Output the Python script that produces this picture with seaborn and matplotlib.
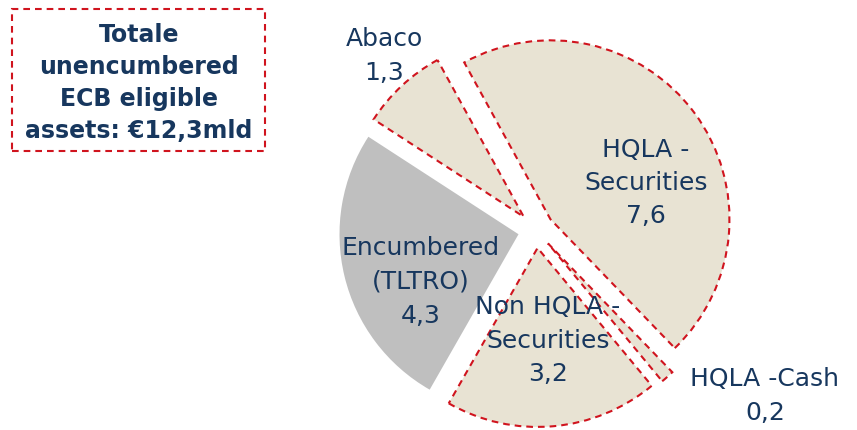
import matplotlib
matplotlib.use("Agg")
import matplotlib.pyplot as plt
import seaborn as sns
from matplotlib.patches import Rectangle

sns.set_theme(style="white")
plt.rcParams["font.family"] = ["DejaVu Sans"]

# Data
labels = ["Abaco", "HQLA -\nSecurities", "HQLA -Cash", "Non HQLA -\nSecurities", "Encumbered\n(TLTRO)"]
values = [1.3, 7.6, 0.2, 3.2, 4.3]
value_text = ["1,3", "7,6", "0,2", "3,2", "4,3"]
encumbered = [False, False, False, False, True]
title_text = "Totale\nunencumbered\nECB eligible\nassets: €12,3mld"

BEIGE = "#E8E3D3"
GREY = "#BFBFBF"
RED = "#D0141E"
NAVY = "#17375E"

W, H = 857, 431
fig = plt.figure(figsize=(W / 100, H / 100), dpi=100)
ax = fig.add_axes([0, 0, 1, 1])

# axes work in pixel units, so radius and explode offsets are in pixels
colors = [GREY if e else BEIGE for e in encumbered]
wedges, _ = ax.pie(values, colors=colors, startangle=147, counterclock=False,
                   explode=[18] * len(values), radius=179, center=(536, 200))
for w, e in zip(wedges, encumbered):
    if e:
        w.set_edgecolor("none")
    else:
        w.set_edgecolor(RED)
        w.set_linewidth(1.5)
        w.set_linestyle((0, (3.2, 2.4)))

ax.set_xlim(0, W)
ax.set_ylim(0, H)
ax.set_aspect("equal")
ax.axis("off")

# Slice annotations
label_pos = [(384, 375), (646, 248), (765, 35), (548, 90), (421, 149)]
for lab, val, (x, y) in zip(labels, value_text, label_pos):
    ax.text(x, y, f"{lab}\n{val}", ha="center", va="center", color=NAVY,
            fontsize=18, linespacing=1.5)

# Summary box
ax.add_patch(Rectangle((12, 279), 253, 142, fill=False, edgecolor=RED,
                       linewidth=1.5, linestyle=(0, (3.2, 2.4))))
ax.text(139, 348, title_text, ha="center", va="center", color=NAVY,
        fontsize=17, fontweight="bold", linespacing=1.42)

fig.savefig("out.png", dpi=100)
